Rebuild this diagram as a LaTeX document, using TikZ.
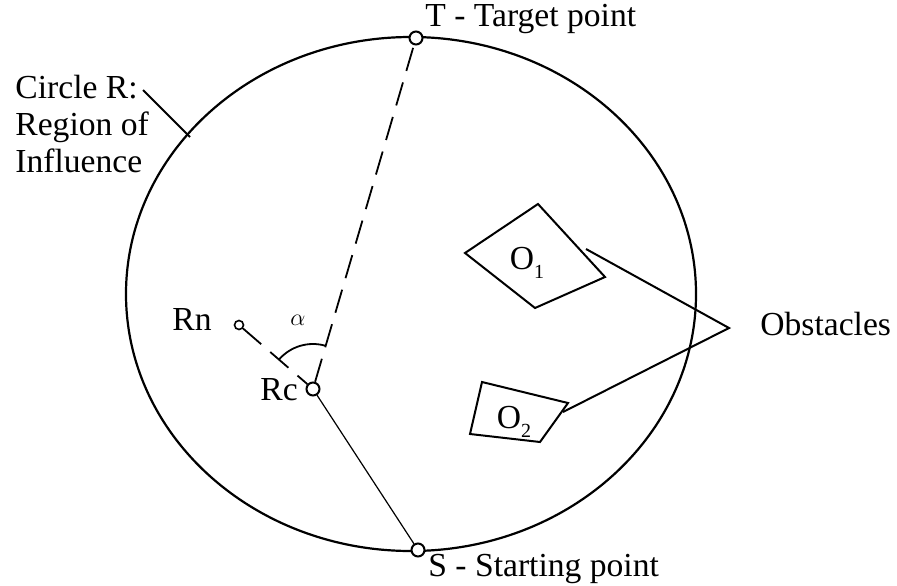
\documentclass[tikz,border=0pt]{standalone}
\usepackage{fontspec}
\setmainfont{Liberation Serif}
\usetikzlibrary{calc}
\tikzstyle{point} = [circle, draw, line width=1pt, inner sep=0pt, minimum size=6.5pt, fill=white]
\tikzstyle{smallpoint} = [circle, draw, line width=0.8pt, inner sep=0pt, minimum size=4.5pt]
\tikzstyle{lbl} = [anchor=base west, inner sep=0pt]
\tikzstyle{dashline} = [line width=0.9pt, dash pattern=on 12pt off 6pt]
\tikzstyle{thinline} = [line width=0.6pt]
\tikzstyle{obstacle} = [line width=1pt, line join=miter]
\newcommand{\obsub}[1]{\raisebox{-0.6ex}{\fontsize{10}{10}\selectfont #1}}

\begin{document}
\begin{tikzpicture}[x=0.5pt, y=0.5pt, font=\fontsize{16.8}{18.5}\selectfont]
      \useasboundingbox (0,0) rectangle (897,585);
      % region of influence
      \draw [line width=1.1pt] (411,291) ellipse [x radius=285, y radius=257];
      \node (T)[point] at (416,547) {};
      \node (S)[point] at (418,35) {};
      \node (Rc)[point] at (313,196) {};
      \node (Rn)[smallpoint] at (239,260) {};
      \node (Tl)[lbl] at (425,558) {T - Target point};
      \node (Sl)[lbl] at (428,9) {S - Starting point};
      \node (Rnl)[lbl] at (172,255) {Rn};
      \node (Rcl)[lbl] at (260,185) {Rc};
      \node (R)[lbl, align=left] at (15,413) {Circle R:\\Region of\\Influence};
      \coordinate (Rfoot) at (143,495);
      \coordinate (Rtip) at (190,448);
      \draw [line width=0.9pt](Rfoot)--(Rtip);
      \draw [dashline](Rc)--(T);
      \draw [dashline](Rn)--(Rc);
      \draw [thinline](Rc)--(S);
      \draw [line width=0.9pt] ($(Rc)+(139:45)$) arc[start angle=139, end angle=74, radius=45];
      \node (alpha)[font=\fontsize{13}{14}\selectfont] at (298,265) {$\alpha$};
      % obstacles
      \draw [obstacle] (465,332) -- (538,381) -- (605,308) -- (535,277) -- cycle;
      \node (O1) at (527,322) {O\obsub{1}};
      \draw [obstacle] (482,203) -- (568,182) -- (540,143) -- (470,151) -- cycle;
      \node (O2) at (514,163) {O\obsub{2}};
      \node (Ob)[lbl] at (760,250) {Obstacles};
      \coordinate (o1) at (586,336);
      \coordinate (o2) at (563,173);
      \coordinate (v) at (729,257);
      \draw [obstacle](o1)--(v)--(o2);
\end{tikzpicture}
\end{document}
